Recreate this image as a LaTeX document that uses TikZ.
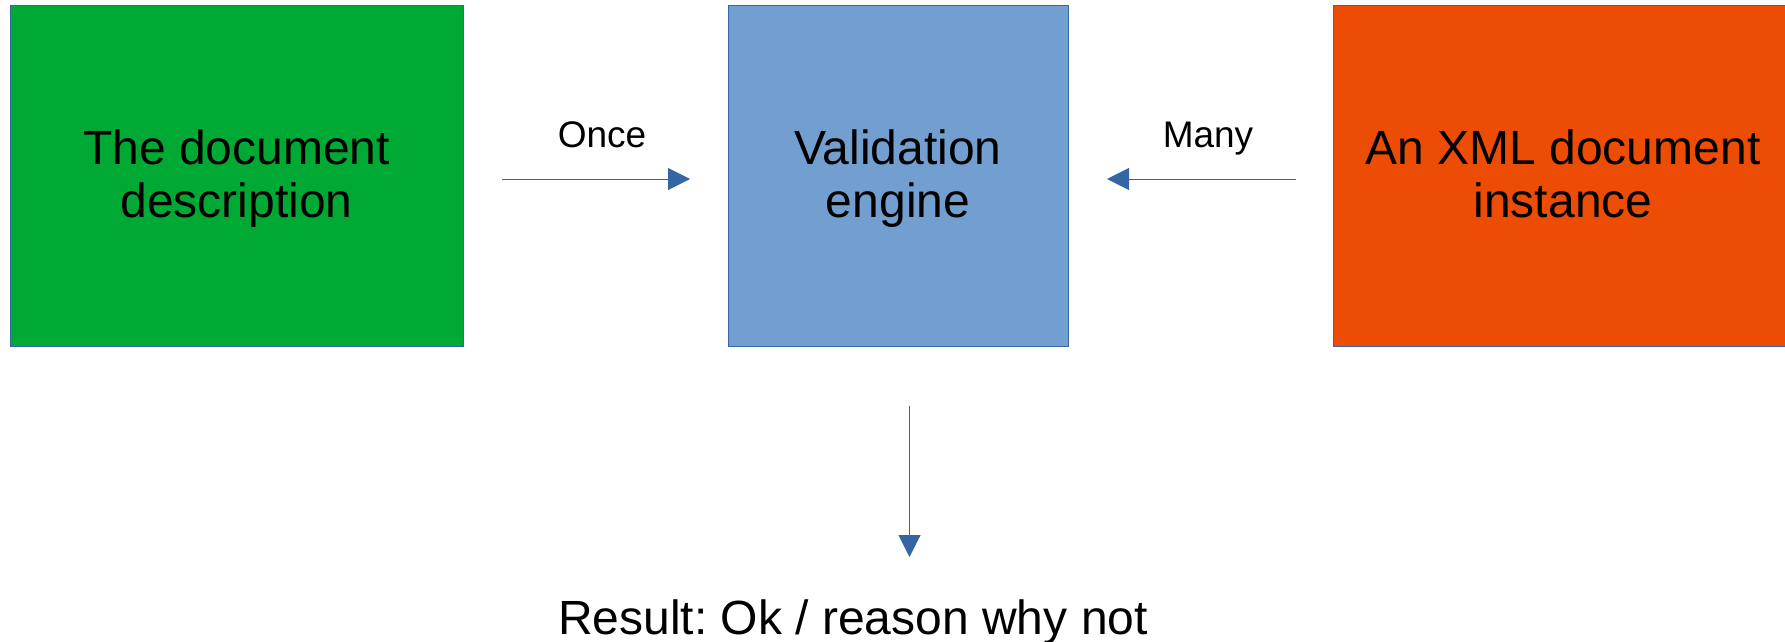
\documentclass[tikz,border=0pt]{standalone}
\usepackage{fontspec}
\setmainfont{Liberation Sans}
\frenchspacing
\usetikzlibrary{arrows.meta}
\definecolor{boxgreen}{HTML}{00A933}
\definecolor{boxblue}{HTML}{729FCF}
\definecolor{boxorange}{HTML}{ED4C05}
\definecolor{edgeblue}{HTML}{3465A4}
\tikzset{
  block/.style={draw=edgeblue, line width=1pt, anchor=north west, inner sep=0pt,
    minimum height=341pt},
  bigtext/.style={font=\fontsize{48}{53.5}\selectfont, align=center, inner sep=0pt},
  boxtext/.style={bigtext, text depth=11pt},
  flow/.style={draw=edgeblue, line width=1pt, -{Triangle[length=22pt,width=22pt]}},
  lbl/.style={font=\fontsize{37}{40}\selectfont, anchor=base, inner sep=0pt}
}
\begin{document}
\begin{tikzpicture}[x=1pt,y=-1pt]
\useasboundingbox (0,0) rectangle (1785,641);
\node[block, fill=boxgreen, minimum width=453pt] (desc) at (10,5) {};
\node[block, fill=boxblue, minimum width=340pt] (engine) at (728,5) {};
\node[block, fill=boxorange, minimum width=470pt] (inst) at (1333,5) {};
\node[boxtext] (desctext) at (236.5,179) {The document\\description};
\node[boxtext] (enginetext) at (898,179) {Validation\\engine};
\node[boxtext] (insttext) at (1563,179) {An XML document\\instance};
\coordinate (onceS) at (502,179);
\coordinate (onceE) at (690,179);
\coordinate (manyS) at (1296,179);
\coordinate (manyE) at (1107,179);
\coordinate (downS) at (909.5,406);
\coordinate (downE) at (909.5,557);
\draw[flow] (onceS) -- (onceE);
\draw[flow] (manyS) -- (manyE);
\draw[flow] (downS) -- (downE);
\node[lbl] (once) at (602,147) {Once};
\node[lbl] (many) at (1208,147) {Many};
\node[bigtext, anchor=base] (result) at (853,634) {Result: Ok / reason why not};
\end{tikzpicture}
\end{document}
